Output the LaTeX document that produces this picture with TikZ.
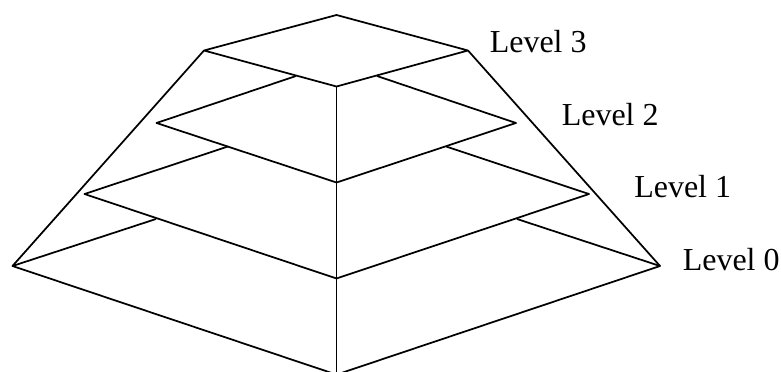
\documentclass[tikz,border=0pt]{standalone}
\usepackage{fontspec}
\setmainfont{Liberation Serif}
\tikzset{
  edgeline/.style={line width=1.3pt,line join=round},
  levellabel/.style={anchor=base west,inner sep=0pt,font=\fontsize{24}{28}\selectfont}
}
\begin{document}
\begin{tikzpicture}[x=0.75pt,y=0.75pt]
\clip (0,0) rectangle (781,371);
% corners of each level: left, right, front, height of the left/right corners
\foreach \n/\xl/\xr/\yc/\yf in {0/12.5/660/105/-3.6,1/84.5/589/177/92.5,2/156.5/516/248/188.5,3/204/468/320.5/284.5}{
  \coordinate (left\n) at (\xl,\yc);
  \coordinate (right\n) at (\xr,\yc);
  \coordinate (front\n) at (336.5,\yf);
}
\coordinate (back3) at (336.5,356);
% where the back edges disappear behind the next level up
\coordinate (hideL0) at (156,152);
\coordinate (hideR0) at (517,152);
\coordinate (hideL1) at (228,224.5);
\coordinate (hideR1) at (446,224.5);
\coordinate (hideL2) at (296,295);
\coordinate (hideR2) at (377,295);
\draw[edgeline] (left3)--(back3)--(right3)--(front3)--cycle;
\foreach \n in {0,1,2}{
  \draw[edgeline] (hideL\n)--(left\n)--(front\n)--(right\n)--(hideR\n);
}
\draw[edgeline] (left0)--(left3);
\draw[edgeline] (right0)--(right3);
\draw[edgeline] (front3)--(front0);
\node[levellabel] (level3) at (489.5,318.3) {Level 3};
\node[levellabel] (level2) at (561.5,245) {Level 2};
\node[levellabel] (level1) at (634,173) {Level 1};
\node[levellabel] (level0) at (682.5,100.3) {Level 0};
\end{tikzpicture}
\end{document}
